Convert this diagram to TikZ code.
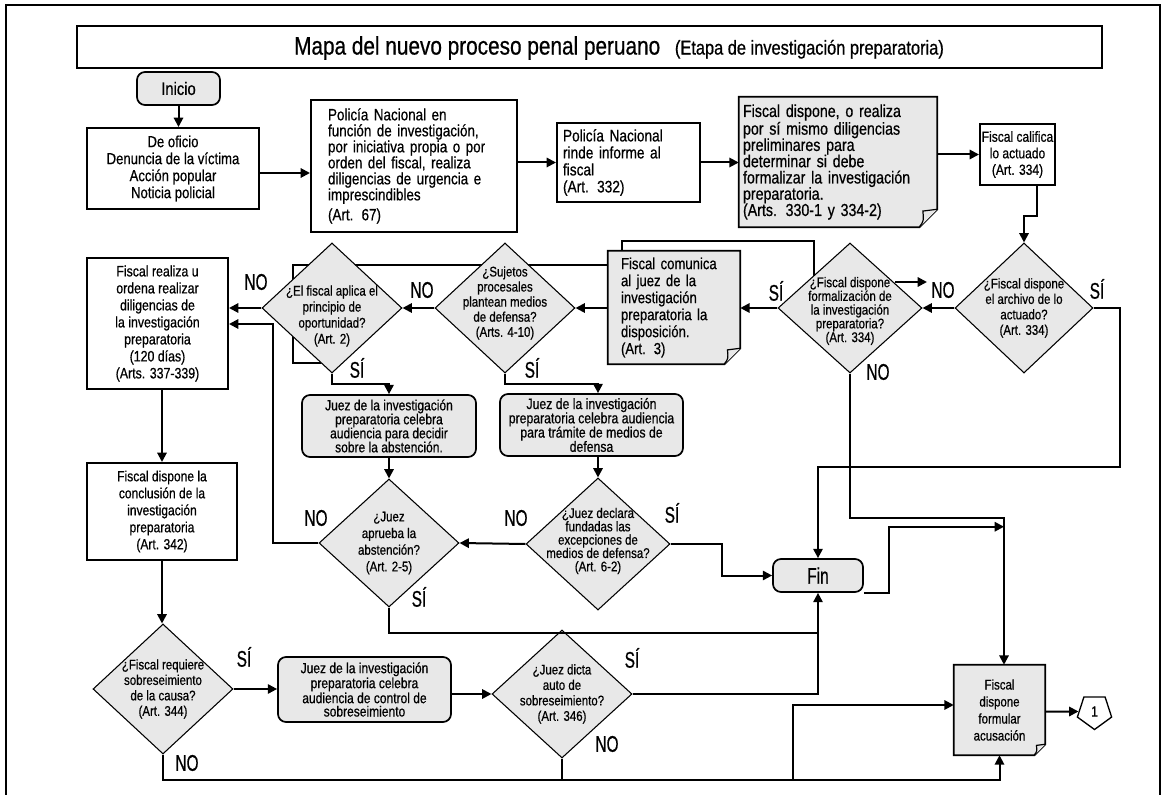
\documentclass[tikz,border=0pt]{standalone}
\usepackage{fontspec}
\setmainfont{Liberation Sans}[FakeStretch=0.82,FakeBold=0.6]
\newfontfamily\lblfont{Liberation Sans}[FakeStretch=0.68,FakeBold=0.6]
\usetikzlibrary{shapes.geometric,arrows.meta,calc,backgrounds}
\definecolor{gfill}{HTML}{E8E8E8}
\newcommand\fsz[2]{\fontsize{#1}{#2}\selectfont}
\tikzset{
 outerframe/.style={line width=1.5pt},
 box/.style={draw, line width=1.5pt, fill=white, inner sep=0pt},
 rbox/.style={draw, line width=1.3pt, fill=gfill, rounded corners=6pt, inner sep=0pt, align=center},
 dia/.style={diamond, draw, line width=0.8pt, fill=gfill, inner sep=0pt},
 dt/.style={align=center, inner sep=0pt, font=\fsz{10.5}{11.5}},
 notebox/.style={inner sep=0pt, align=left},
 notebd/.style={draw, line width=1.3pt, fill=gfill, line join=miter},
 arr/.style={line width=1.5pt, -{Triangle[length=7pt,width=7pt]}},
 ln/.style={line width=1.5pt},
 lbl/.style={inner sep=0pt, font=\lblfont\fsz{17}{17}},
}
\newcommand\foldnote[2]{%
 \begin{scope}[on background layer]
 \path[notebd] (#1.north west) -- (#1.north east) -- ($(#1.south east)+(0,-#2)$) -- ($(#1.south east)+(-#2,0)$) -- (#1.south west) -- cycle;
 \end{scope}
 \path[notebd, line width=0.9pt] ($(#1.south east)+(-#2,0)$) .. controls ($(#1.south east)+(-0.75*#2,-0.35*#2)$) .. ($(#1.south east)+(-0.8*#2,-0.9*#2)$) -- ($(#1.south east)+(0,-#2)$);
}
\begin{document}
\begin{tikzpicture}[x=0.75pt,y=-0.75pt]
\useasboundingbox (0,0) rectangle (1164,795);
\draw[outerframe] (6,795) -- (6,5) -- (1160,5) -- (1160,795);

% title
\node[box, minimum width=768.75pt, minimum height=31.5pt] (title) at (589.5,47) {};
\node[inner sep=0pt] (ttl) at (619,48) {\fsz{19}{20}Mapa del nuevo proceso penal peruano\hspace{11pt}\fsz{15}{17}(Etapa de investigación preparatoria)};

% row 1
\node[rbox, minimum width=62.25pt, minimum height=24.75pt, font=\fsz{13.5}{14}] (inicio) at (178.5,88.5) {Inicio};
\node[box, minimum width=129pt, minimum height=60.75pt, align=center, font=\fsz{12}{12.75}] (orig) at (173,168.5) {De oficio\\Denuncia de la víctima\\Acción popular\\Noticia policial};
\node[box, text width=129pt, inner xsep=12.75pt, minimum height=99pt, align=left, font=\fsz{12.3}{12}] (pol1) at (414,166) {Policía Nacional  en\\función de investigación,\\por iniciativa propia o por\\orden del fiscal, realiza\\diligencias de urgencia e\\imprescindibles\\[3pt](Art. 67)};
\node[box, text width=98.25pt, inner xsep=4.5pt, minimum height=59.25pt, align=left, font=\fsz{12.5}{12.75}] (pol2) at (628.5,162.5) {Policía Nacional\\rinde informe al\\fiscal\\(Art. 332)};
\node[notebox, text width=142.5pt, inner xsep=3pt, minimum height=97.5pt, font=\fsz{13}{12.2}] (note1) at (838,162) {Fiscal dispone, o realiza\\por sí  mismo diligencias\\preliminares para\\determinar si debe\\formalizar la investigación\\preparatoria.\\(Arts. 330-1 y 334-2)};
\foldnote{note1}{18}
\node[box, minimum width=56.25pt, minimum height=45.75pt, align=center, font=\fsz{11}{12.4}] (calif) at (1017.5,154.5) {Fiscal califica\\lo actuado\\(Art. 334)};

% row 2
\node[notebox, text width=79.5pt, inner xsep=9.75pt, minimum height=84.75pt, font=\fsz{12}{12.75}] (com) at (674,307.5) {Fiscal comunica\\al juez de la\\investigación\\preparatoria la\\disposición.\\(Art. 3)};
\foldnote{com}{16}

\node[dia, minimum width=103.5pt, minimum height=97.5pt] (darch) at (1024,308) {};
\node[dt, font=\fsz{10.5}{11.6}] (tarch) at (darch) {¿Fiscal dispone\\el archivo de lo\\actuado?\\(Art. 334)};
\node[dia, minimum width=108pt, minimum height=97.5pt] (dform) at (850,308) {};
\node[dt, font=\fsz{10.5}{10.3}] (tform) at ($(dform)+(0,3)$) {¿Fiscal dispone\\formalización de\\la investigación\\preparatoria?\\(Art. 334)};
\node[dia, minimum width=105pt, minimum height=97.5pt] (dsuj) at (505,308) {};
\node[dt, font=\fsz{10.5}{11.3}] (tsuj) at ($(dsuj)+(0,-5)$) {¿Sujetos\\procesales\\plantean medios\\de defensa?\\(Arts. 4-10)};
\node[dia, minimum width=105pt, minimum height=97.5pt] (dop) at (332,308) {};
\node[dt, font=\fsz{10.5}{12}] (top) at ($(dop)+(0,8)$) {¿El fiscal aplica el\\principio de\\oportunidad?\\(Art. 2)};
\node[box, minimum width=105.75pt, minimum height=98.25pt, align=center, font=\fsz{11.3}{12.75}] (real) at (157.5,323.5) {Fiscal realiza u\\ordena realizar\\diligencias de\\la investigación\\preparatoria\\(120 días)\\(Arts. 337-339)};

% row 3
\node[rbox, minimum width=130.5pt, minimum height=46.5pt, font=\fsz{11}{10.5}] (abst) at (389,426) {Juez de la investigación\\preparatoria celebra\\audiencia para decidir\\sobre la abstención.};
\node[rbox, minimum width=137.25pt, minimum height=46.5pt, font=\fsz{11.2}{10.7}] (med) at (591.5,425) {Juez de la investigación\\preparatoria celebra audiencia\\para trámite de  medios de\\defensa};
\node[dia, minimum width=105pt, minimum height=96pt] (dapr) at (389,543) {};
\node[dt, font=\fsz{10.5}{12.5}] (tapr) at (dapr) {¿Juez\\aprueba la\\abstención?\\(Art. 2-5)};
\node[dia, minimum width=108pt, minimum height=99pt] (ddecl) at (598,544) {};
\node[dt, font=\fsz{10.5}{10}] (tdecl) at ($(ddecl)+(0,-3)$) {¿Juez declara\\fundadas las\\excepciones de\\medios de defensa?\\(Art. 6-2)};
\node[rbox, minimum width=67.5pt, minimum height=24.75pt, font=\lblfont\fsz{17}{17}] (fin) at (818,575.5) {Fin};
\node[box, minimum width=112.5pt, minimum height=72.75pt, align=center, font=\fsz{11}{12.75}] (concl) at (162,511.5) {Fiscal dispone la\\conclusión de la\\investigación\\preparatoria\\(Art. 342)};

% row 4
\node[dia, minimum width=105pt, minimum height=97.5pt] (dreq) at (163,689) {};
\node[dt, font=\fsz{10.5}{11.6}] (treq) at (dreq) {¿Fiscal requiere\\sobreseimiento\\de la causa?\\(Art. 344)};
\node[rbox, minimum width=129.75pt, minimum height=48.75pt, font=\fsz{11}{10}] (ctrl) at (364.5,689.5) {Juez de la investigación\\preparatoria celebra\\audiencia de control de\\sobreseimiento};
\node[dia, minimum width=105pt, minimum height=96pt] (ddic) at (562,694) {};
\node[dt, font=\fsz{10.5}{11.6}] (tdic) at (ddic) {¿Juez dicta\\auto de\\sobreseimiento?\\(Art. 346)};
\node[notebox, align=center, minimum width=68.25pt, minimum height=67.5pt, font=\fsz{10.5}{12.75}] (acus) at (999.5,710) {Fiscal\\dispone\\formular\\acusación};
\foldnote{acus}{11}
\node[regular polygon, regular polygon sides=5, shape border rotate=180, draw, line width=1pt, minimum size=27pt, inner sep=0pt, font=\fsz{11}{12}] (pent) at (1094.5,711.5) {1};

% lines hidden behind shapes
\begin{scope}[on background layer]
\draw[ln] ($(com.north west)+(14,0)$) -- ++(0,-10) -| ($(dform)+(-36,-18)$);
\draw[ln] ($(com.west)+(0,-42.5)$) -| (293,363) -- ($(dop)+(-11,55)$);
\end{scope}

% connectors
\draw[arr] (inicio.south) -- (inicio.south |- orig.north);
\draw[arr] (orig.east |- 0,173) -- (pol1.west |- 0,173);
\draw[arr] (pol1.east |- pol2.west) -- (pol2.west);
\draw[arr] (pol2.east) -- (pol2.east -| note1.west);
\draw[arr] (note1.east |- calif.west) -- (calif.west);
\draw[arr] ($(calif.south)+(19.5,0)$) -- ++(0,30) -| (darch.north);
\draw[arr] (darch.east) -| (1120,467) -| (fin.north);
\draw[arr] (darch.west) -- (dform.east);
\draw[arr] ($(dform)+(45,-26)$) -- ++(32,0);
\draw[arr] (dform.west) -- (com.east |- dform.west);
\draw[arr] (dform.south) |- ($(acus.north)+(4.5,-147)$) -- ($(acus.north)+(4.5,0)$);
\draw[arr] (com.west |- dsuj.east) -- (dsuj.east);
\draw[arr] (dsuj.west) -- (dop.east);
\draw[arr] (dop.west) -- (real.east |- dop.west);
\draw[arr] (dop.south) -- ++(0,10) -| (abst.north);
\draw[arr] (abst.south) -- (dapr.north);
\draw[arr] (dapr.west) -| (273,324) -- (real.east |- 0,324);
\draw[ln] (dapr.south) |- (fin.south |- 0,633);
\draw[arr] (dsuj.south) -- ++(0,10) -| (ddecl.north |- med.north);
\draw[arr] (ddecl.north |- med.south) -- (ddecl.north);
\draw[arr] (ddecl.west) -- (dapr.east);
\draw[arr] (ddecl.east) -- ++(51,0) |- (fin.west);
\draw[arr] (fin.south east) -- ++(25,0) |- ($(acus.north)+(4.5,-138)$);
\draw[arr] (ddic.east) -| (fin.south);
\draw[arr] (concl.north |- real.south) -- (concl.north);
\draw[arr] (concl.south) -- (concl.south |- dreq.north);
\draw[arr] (dreq.east) -- (ctrl.west |- dreq.east);
\draw[arr] (ctrl.east |- ddic.west) -- (ddic.west);
\coordinate (bot) at (acus.south |- 0,780);
\draw[arr] (dreq.south) |- (bot) -- (acus.south);
\draw[ln] (ddic.south) -- (ddic.south |- bot);
\draw[arr] (bot -| 793,0) |- ($(acus.west)+(0,-5)$);
\draw[arr] (acus.east |- pent.center) -- (pent.west);

% labels
\node[lbl] (l1) at (256,282) {NO};
\node[lbl] (l2) at (422,290) {NO};
\node[lbl] (l3) at (776,291) {SÍ};
\node[lbl] (l4) at (943,290) {NO};
\node[lbl] (l5) at (1097,289) {SÍ};
\node[lbl] (l6) at (878,372) {NO};
\node[lbl] (l7) at (357,368) {SÍ};
\node[lbl] (l8) at (532,368) {SÍ};
\node[lbl] (l9) at (316,518) {NO};
\node[lbl] (l10) at (419,597) {SÍ};
\node[lbl] (l11) at (516,518) {NO};
\node[lbl] (l12) at (672,513) {SÍ};
\node[lbl] (l13) at (244,657) {SÍ};
\node[lbl] (l14) at (187,763) {NO};
\node[lbl] (l15) at (632,658) {SÍ};
\node[lbl] (l16) at (607,744) {NO};
\end{tikzpicture}
\end{document}
